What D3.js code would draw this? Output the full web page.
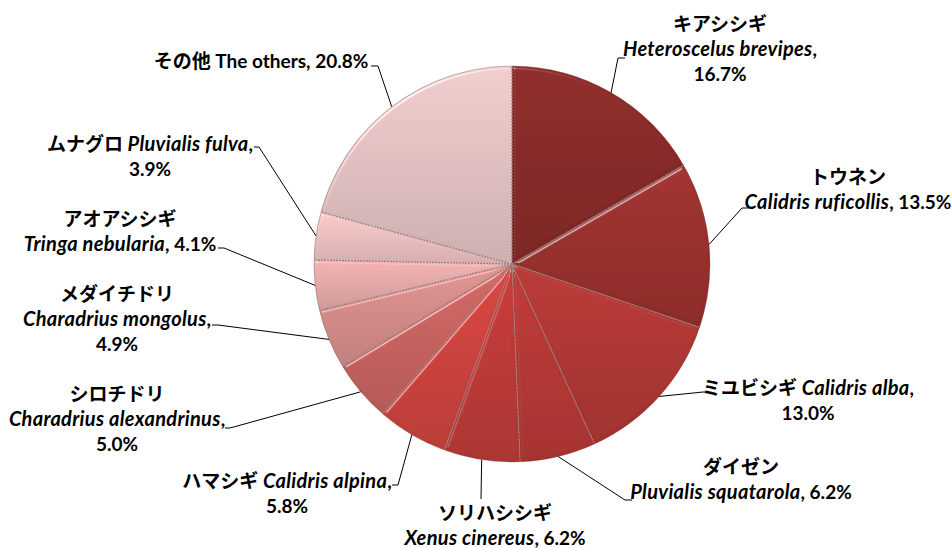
<!DOCTYPE html>
<html>
<head>
<meta charset="utf-8">
<script src="https://cdn.jsdelivr.net/npm/d3@7"></script>
<style>
  body { margin: 0; background: #fff; }
  .jp { font-family: "Noto Sans CJK JP", sans-serif; font-weight: 700; font-size: 19px; }
  .sci { font-family: Lato, "Liberation Sans", sans-serif; font-weight: 700; font-style: italic; font-size: 20px; letter-spacing: 0.3px; }
  .en { font-family: Lato, "Liberation Sans", sans-serif; font-weight: 700; font-size: 19px; }
</style>
</head>
<body>
<div id="chart"></div>
<script>
// shorebird species, share of individuals counted (%)
const jpNames = ["キアシシギ", "トウネン", "ミユビシギ", "ダイゼン", "ソリハシシギ", "ハマシギ",
    "シロチドリ", "メダイチドリ", "アオアシシギ", "ムナグロ", "その他"];
const sciNames = ["Heteroscelus brevipes", "Calidris ruficollis", "Calidris alba", "Pluvialis squatarola",
    "Xenus cinereus", "Calidris alpina", "Charadrius alexandrinus", "Charadrius mongolus",
    "Tringa nebularia", "Pluvialis fulva", "The others"];
const italicName = [true, true, true, true, true, true, true, true, true, true, false];
const shares = [16.7, 13.5, 13.0, 6.2, 6.2, 5.8, 5.0, 4.9, 4.1, 3.9, 20.8];

// slice colours
const sliceColors = ["#842826", "#952e2b", "#ab3531", "#b13632", "#b83834", "#c8403b",
    "#c2605c", "#cf8886", "#dfa4a4", "#e6baba", "#dcbcbc"];

// label placement: line format, text centre / first baseline, leader elbow and hook
const labelPos = [
    {fmt: "A", x: 720, y: 31, elbow: [618, 58], hook: [625, 58]},
    {fmt: "B", x: 848, y: 184, elbow: [742, 208], hook: [748, 208]},
    {fmt: "C", x: 808, y: 395, elbow: [703, 392], hook: [705, 392]},
    {fmt: "B", x: 741, y: 474, elbow: [625, 500], hook: [632, 500]},
    {fmt: "B", x: 495, y: 520, elbow: [481, 499], hook: [481, 499]},
    {fmt: "C", x: 287, y: 488, elbow: [398, 485], hook: [392, 485]},
    {fmt: "A", x: 117, y: 401, elbow: [230, 428], hook: [225, 428]},
    {fmt: "A", x: 117, y: 301, elbow: [218, 325], hook: [212, 325]},
    {fmt: "B", x: 120, y: 226, elbow: [224, 248], hook: [218, 248]},
    {fmt: "C", x: 150, y: 151, elbow: [259, 147], hook: [254, 147]},
    {fmt: "D", x: 261, y: 68, elbow: [378, 66], hook: [371, 66]}
];

function chart() {
    const width = 952;
    const height = 548;
    const cx = 512, cy = 264, radius = 198;

    const svg = d3.select("#chart")
        .append("svg")
        .attr("width", width)
        .attr("height", height);

    const defs = svg.append("defs");

    sliceColors.forEach((c, i) => {
        const g = defs.append("linearGradient")
            .attr("id", "g" + i)
            .attr("x1", 0).attr("y1", 0).attr("x2", 0).attr("y2", 1);
        g.append("stop").attr("offset", "0%").attr("stop-color", d3.color(c).brighter(0.25));
        g.append("stop").attr("offset", "100%").attr("stop-color", d3.color(c).darker(0.2));
    });

    // soft bevel on each slice
    const bevel = defs.append("filter").attr("id", "bevel")
        .attr("x", "-5%").attr("y", "-5%").attr("width", "110%").attr("height", "110%");
    bevel.append("feGaussianBlur").attr("in", "SourceAlpha").attr("stdDeviation", 1.6).attr("result", "blur");
    bevel.append("feSpecularLighting")
        .attr("in", "blur").attr("surfaceScale", 3).attr("specularConstant", 0.6)
        .attr("specularExponent", 30).attr("lighting-color", "#fff").attr("result", "spec")
        .append("feDistantLight").attr("azimuth", 235).attr("elevation", 25);
    bevel.append("feComposite").attr("in", "spec").attr("in2", "SourceAlpha")
        .attr("operator", "in").attr("result", "spec2");
    bevel.append("feComposite").attr("in", "SourceGraphic").attr("in2", "spec2")
        .attr("operator", "arithmetic").attr("k1", 0).attr("k2", 1).attr("k3", 0.7).attr("k4", 0);

    const pie = d3.pie().sort(null).value(d => d);
    const arcs = pie(shares);
    const arc = d3.arc().innerRadius(0).outerRadius(radius);

    const g = svg.append("g").attr("transform", `translate(${cx},${cy})`);

    g.selectAll("path.slice")
        .data(arcs)
        .join("path")
        .attr("class", "slice")
        .attr("d", arc)
        .attr("fill", (d, i) => `url(#g${i})`)
        .attr("filter", "url(#bevel)");

    // dashed separators between slices
    g.selectAll("line.sep")
        .data(arcs)
        .join("line")
        .attr("class", "sep")
        .attr("x1", 0).attr("y1", 0)
        .attr("x2", d => d3.pointRadial(d.startAngle, radius)[0])
        .attr("y2", d => d3.pointRadial(d.startAngle, radius)[1])
        .attr("stroke", "#8c8282")
        .attr("stroke-width", 1.2)
        .attr("stroke-dasharray", "2,1");

    g.append("circle")
        .attr("r", radius)
        .attr("fill", "none")
        .attr("stroke", "rgba(110,60,60,0.35)")
        .attr("stroke-width", 1);

    // leader lines
    svg.append("g")
        .selectAll("path")
        .data(arcs)
        .join("path")
        .attr("fill", "none")
        .attr("stroke", "#000")
        .attr("stroke-width", 1)
        .attr("d", (d, i) => {
            const p = d3.pointRadial((d.startAngle + d.endAngle) / 2, radius);
            const l = labelPos[i];
            return d3.line()([[cx + p[0], cy + p[1]], l.elbow, l.hook]);
        });

    // labels
    const lineSets = i => {
        const jp = {t: jpNames[i], cls: "jp"};
        const sci = {t: sciNames[i], cls: italicName[i] ? "sci" : "en"};
        const pct = {t: shares[i].toFixed(1) + "%", cls: "en"};
        const sp = {t: " ", cls: "en"};
        const comma = {t: ",", cls: "en"};
        const commaSp = {t: ", ", cls: "en"};
        switch (labelPos[i].fmt) {
            case "A": return [[jp], [sci, comma], [pct]];
            case "B": return [[jp], [sci, commaSp, pct]];
            case "C": return [[jp, sp, sci, comma], [pct]];
            default: return [[jp, sp, sci, commaSp, pct]];
        }
    };

    const lab = svg.append("g");
    shares.forEach((v, i) => {
        const l = labelPos[i];
        lineSets(i).forEach((segs, k) => {
            const t = lab.append("text")
                .attr("x", l.x)
                .attr("y", l.y + k * 25)
                .attr("text-anchor", "middle")
                .attr("fill", "#000")
                .attr("xml:space", "preserve");
            segs.forEach(s => t.append("tspan").attr("class", s.cls).text(s.t));
        });
    });
}

chart();
</script>
</body>
</html>
